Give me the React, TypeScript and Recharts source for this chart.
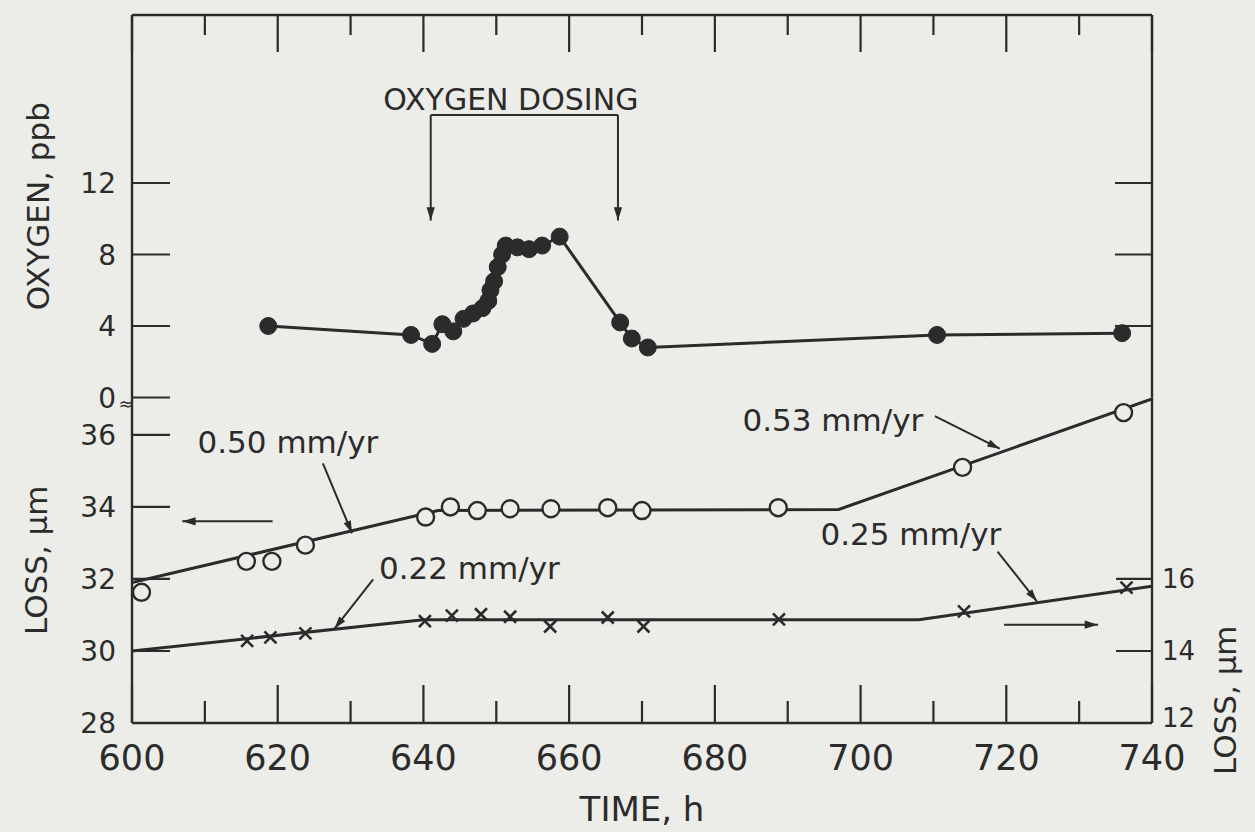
import React from 'react';
import { ComposedChart, Line, Scatter, XAxis, YAxis, ReferenceLine, ReferenceDot } from 'recharts';

const INK = '#2b2b2b';
const PAPER = '#ecece9';
const FONT = '"DejaVu Sans", Verdana, sans-serif';

// axis ticks
const timeTicks = [600, 610, 620, 630, 640, 650, 660, 670, 680, 690, 700, 710, 720, 730, 740];
const oxygenTicks = [0, 4, 8, 12];
const lossTicks = [28, 30, 32, 34, 36];
const lossRightTicks = [12, 14, 16];

// oxygen, ppb (filled dots)
const oxygenTime = [618.7, 638.3, 641.2, 642.6, 644.1, 645.5, 646.8, 648.1, 648.9, 649.2, 649.7, 650.2, 650.8, 651.3, 652.9, 654.5, 656.3, 658.7, 667.0, 668.6, 670.8, 710.5, 735.9];
const oxygenPpb = [4.0, 3.5, 3.0, 4.1, 3.7, 4.4, 4.7, 5.0, 5.4, 6.0, 6.5, 7.3, 8.0, 8.5, 8.4, 8.3, 8.5, 9.0, 4.2, 3.3, 2.8, 3.5, 3.6];

// loss, left scale (open circles) and its fitted line
const lossTime = [601.3, 615.7, 619.2, 623.8, 640.3, 643.7, 647.4, 651.9, 657.5, 665.3, 670.0, 688.7, 714.0, 736.1];
const lossUm = [31.63, 32.49, 32.49, 32.94, 33.72, 34.0, 33.9, 33.95, 33.95, 33.98, 33.9, 33.98, 35.1, 36.62];
const lossFitTime = [600, 642, 697, 740];
const lossFitUm = [31.9, 33.9, 33.93, 37.0];

// loss, right scale (crosses) and its fitted line
const crossTime = [615.8, 619.0, 623.8, 640.2, 643.9, 647.9, 651.9, 657.4, 665.3, 670.2, 688.8, 714.2, 736.5];
const crossUm = [14.28, 14.38, 14.49, 14.83, 14.98, 15.02, 14.95, 14.68, 14.93, 14.68, 14.88, 15.1, 15.76];
const crossFitTime = [600, 640, 708, 740];
const crossFitUm = [14.0, 14.87, 14.87, 15.8];

// rate notes (text anchor + leader arrow, left loss scale)
const rateNotes = [
  { text: '0.50 mm/yr', x: 621.4, y: 35.8, from: [626.2, 35.21], to: [630.2, 33.27] },
  { text: '0.22 mm/yr', x: 646.3, y: 32.32, from: [633.1, 31.99], to: [627.8, 30.62] },
  { text: '0.53 mm/yr', x: 696.2, y: 36.43, from: [710.2, 36.52], to: [719.1, 35.62] },
  { text: '0.25 mm/yr', x: 706.9, y: 33.24, from: [718.8, 32.76], to: [724.2, 31.38] },
];
const scaleArrows = [
  { from: [619.3, 33.6], to: [606.9, 33.6] },
  { from: [719.7, 30.73], to: [732.6, 30.73] },
];

const zip = (xs: number[], ys: number[]) => xs.map((t, i) => ({ t, v: ys[i] }));
const oxygenData = zip(oxygenTime, oxygenPpb);
const lossData = zip(lossTime, lossUm);
const lossFit = zip(lossFitTime, lossFitUm);
const crossData = zip(crossTime, crossUm);
const crossFit = zip(crossFitTime, crossFitUm);

const axisLine = { stroke: INK, strokeWidth: 2.4 };

const leftTick = (len: number, size: number) => (p: any) => (
  <g>
    <line x1={p.x} y1={p.y} x2={p.x + len} y2={p.y} stroke={INK} strokeWidth={2.2} />
    <text x={p.x - 16} y={p.y} dy="0.36em" textAnchor="end" fontSize={size} fontFamily={FONT} fill={INK}>
      {p.payload.value}
    </text>
  </g>
);

const rightTick = (len: number, size: number, label: boolean) => (p: any) => (
  <g>
    <line x1={p.x} y1={p.y} x2={p.x - len} y2={p.y} stroke={INK} strokeWidth={2.2} />
    {label && (
      <text x={p.x + 10} y={p.y - (p.index === 0 ? 5 : 0)} dy="0.36em" textAnchor="start" fontSize={size} fontFamily={FONT} fill={INK}>
        {p.payload.value}
      </text>
    )}
  </g>
);

const topTick = (p: any) => {
  const len = p.payload.value % 20 === 0 ? 37 : 20;
  return (
    <g>
      <line x1={p.x} y1={p.y} x2={p.x} y2={p.y + len} stroke={INK} strokeWidth={2.2} />
    </g>
  );
};

const bottomTick = (p: any) => {
  const major = p.payload.value % 20 === 0;
  return (
    <g>
      <line x1={p.x} y1={p.y} x2={p.x} y2={p.y - (major ? 38 : 22)} stroke={INK} strokeWidth={2.2} />
      {major && (
        <text x={p.x} y={p.y + 34} dy="0.36em" textAnchor="middle" fontSize={35} fontFamily={FONT} fill={INK}>
          {p.payload.value}
        </text>
      )}
    </g>
  );
};

const arrowShape = (head: number) => (p: any) => {
  const { x1, y1, x2, y2 } = p;
  const a = Math.atan2(y2 - y1, x2 - x1);
  const w = 0.3;
  const pts = [
    [x2, y2],
    [x2 - head * Math.cos(a - w), y2 - head * Math.sin(a - w)],
    [x2 - head * Math.cos(a + w), y2 - head * Math.sin(a + w)],
  ]
    .map((q) => q.join(','))
    .join(' ');
  return (
    <g>
      <line x1={x1} y1={y1} x2={x2} y2={y2} stroke={INK} strokeWidth={2} />
      <polygon points={pts} fill={INK} />
    </g>
  );
};

const noteText = (text: string, size: number) => (p: any) => (
  <text x={p.cx} y={p.cy} dy="0.36em" textAnchor="middle" fontSize={size} fontFamily={FONT} fill={INK}>
    {text}
  </text>
);

const vTitle = (text: string, dx: number, dyFrac: number) => (p: any) => {
  const vb = p.viewBox || {};
  const cx = vb.x + dx;
  const cy = vb.y + vb.height * dyFrac;
  return (
    <text x={cx} y={cy} dy="0.36em" textAnchor="middle" fontSize={31} fontFamily={FONT} fill={INK} transform={`rotate(-90 ${cx} ${cy})`}>
      {text}
    </text>
  );
};

const timeTitle = (p: any) => {
  const vb = p.viewBox || {};
  return (
    <text x={vb.x + vb.width / 2} y={vb.y + 86} dy="0.36em" textAnchor="middle" fontSize={34} fontFamily={FONT} fill={INK}>
      TIME, h
    </text>
  );
};

const openCircle = (p: any) => <circle cx={p.cx} cy={p.cy} r={8.5} fill={PAPER} stroke={INK} strokeWidth={2.4} />;
const cross = (p: any) => (
  <g stroke={INK} strokeWidth={2.6}>
    <line x1={p.cx - 6} y1={p.cy - 6} x2={p.cx + 6} y2={p.cy + 6} />
    <line x1={p.cx - 6} y1={p.cy + 6} x2={p.cx + 6} y2={p.cy - 6} />
  </g>
);
const breakMark = (p: any) => (
  <text x={p.cx - 6} y={p.cy + 12} textAnchor="middle" fontSize={18} fontFamily={FONT} fill={INK}>
    ≈
  </text>
);

export default function App() {
  return (
    <div style={{ position: 'absolute', left: 0, top: 0, width: 1255, height: 832, background: PAPER, overflow: 'hidden' }}>
      {/* lower panel: metal loss */}
      <div style={{ position: 'absolute', left: 0, top: 0 }}>
        <ComposedChart width={1255} height={832} margin={{ top: 397.5, right: 43, bottom: 49, left: 70 }}>
          <XAxis
            xAxisId="t"
            type="number"
            dataKey="t"
            domain={[600, 740]}
            ticks={timeTicks}
            interval={0}
            height={60}
            tickSize={0}
            tickMargin={0}
            tickLine={false}
            axisLine={axisLine}
            tick={bottomTick}
            label={{ content: timeTitle }}
            allowDataOverflow
          />
          <XAxis xAxisId="sep" orientation="top" type="number" domain={[600, 740]} height={0} tick={false} tickLine={false} axisLine={axisLine} />
          <YAxis
            yAxisId="l"
            type="number"
            domain={[28, 37.04]}
            ticks={lossTicks}
            interval={0}
            width={62}
            tickSize={0}
            tickMargin={0}
            tickLine={false}
            axisLine={axisLine}
            tick={leftTick(38, 28)}
            label={{ content: vTitle('LOSS, µm', -34, 0.5) }}
            allowDataOverflow
          />
          <YAxis
            yAxisId="r"
            orientation="right"
            type="number"
            domain={[12, 21.04]}
            ticks={lossRightTicks}
            interval={0}
            width={60}
            tickSize={0}
            tickMargin={0}
            tickLine={false}
            axisLine={axisLine}
            tick={rightTick(36, 26, true)}
            label={{ content: vTitle('LOSS, µm', 73, 0.93) }}
            allowDataOverflow
          />
          <Line xAxisId="t" yAxisId="l" data={lossFit} dataKey="v" stroke={INK} strokeWidth={3} dot={false} activeDot={false} isAnimationActive={false} />
          <Line xAxisId="t" yAxisId="r" data={crossFit} dataKey="v" stroke={INK} strokeWidth={3} dot={false} activeDot={false} isAnimationActive={false} />
          <Scatter xAxisId="t" yAxisId="l" data={lossData} dataKey="v" shape={openCircle} isAnimationActive={false} />
          <Scatter xAxisId="t" yAxisId="r" data={crossData} dataKey="v" shape={cross} isAnimationActive={false} />
          {rateNotes.map((n) => (
            <ReferenceDot key={n.text} xAxisId="t" yAxisId="l" x={n.x} y={n.y} r={0} shape={noteText(n.text, 31)} />
          ))}
          {rateNotes.map((n) => (
            <ReferenceLine
              key={n.text + 'a'}
              xAxisId="t"
              yAxisId="l"
              segment={[{ x: n.from[0], y: n.from[1] }, { x: n.to[0], y: n.to[1] }]}
              shape={arrowShape(13)}
            />
          ))}
          {scaleArrows.map((a, i) => (
            <ReferenceLine
              key={'s' + i}
              xAxisId="t"
              yAxisId="l"
              segment={[{ x: a.from[0], y: a.from[1] }, { x: a.to[0], y: a.to[1] }]}
              shape={arrowShape(14)}
            />
          ))}
          <ReferenceDot xAxisId="t" yAxisId="l" x={600} y={37.04} r={0} shape={breakMark} ifOverflow="visible" />
        </ComposedChart>
      </div>

      {/* upper panel: oxygen */}
      <div style={{ position: 'absolute', left: 0, top: 0 }}>
        <ComposedChart width={1255} height={420} margin={{ top: 14, right: 43, bottom: 22.5, left: 70 }}>
          <XAxis
            xAxisId="t"
            orientation="top"
            type="number"
            dataKey="t"
            domain={[600, 740]}
            ticks={timeTicks}
            interval={0}
            height={1}
            tickSize={0}
            tickMargin={0}
            tickLine={false}
            axisLine={axisLine}
            tick={topTick}
            allowDataOverflow
          />
          <YAxis
            yAxisId="o"
            type="number"
            domain={[0, 21.4]}
            ticks={oxygenTicks}
            interval={0}
            width={62}
            tickSize={0}
            tickMargin={0}
            tickLine={false}
            axisLine={axisLine}
            tick={leftTick(38, 28)}
            label={{ content: vTitle('OXYGEN, ppb', -32, 0.5) }}
            allowDataOverflow
          />
          <YAxis
            yAxisId="or"
            orientation="right"
            type="number"
            domain={[0, 21.4]}
            ticks={[4, 8, 12]}
            interval={0}
            width={60}
            tickSize={0}
            tickMargin={0}
            tickLine={false}
            axisLine={axisLine}
            tick={rightTick(37, 28, false)}
            allowDataOverflow
          />
          <Line
            xAxisId="t"
            yAxisId="o"
            data={oxygenData}
            dataKey="v"
            stroke={INK}
            strokeWidth={3}
            dot={{ r: 8.5, fill: INK, stroke: INK, strokeWidth: 1 }}
            activeDot={false}
            isAnimationActive={false}
          />
          <ReferenceDot xAxisId="t" yAxisId="o" x={652} y={16.7} r={0} shape={noteText('OXYGEN DOSING', 30)} />
          <ReferenceLine xAxisId="t" yAxisId="o" segment={[{ x: 641, y: 15.8 }, { x: 666.7, y: 15.8 }]} stroke={INK} strokeWidth={2} />
          <ReferenceLine xAxisId="t" yAxisId="o" segment={[{ x: 641, y: 15.8 }, { x: 641, y: 9.9 }]} shape={arrowShape(14)} />
          <ReferenceLine xAxisId="t" yAxisId="o" segment={[{ x: 666.7, y: 15.8 }, { x: 666.7, y: 9.9 }]} shape={arrowShape(14)} />
        </ComposedChart>
      </div>
    </div>
  );
}
